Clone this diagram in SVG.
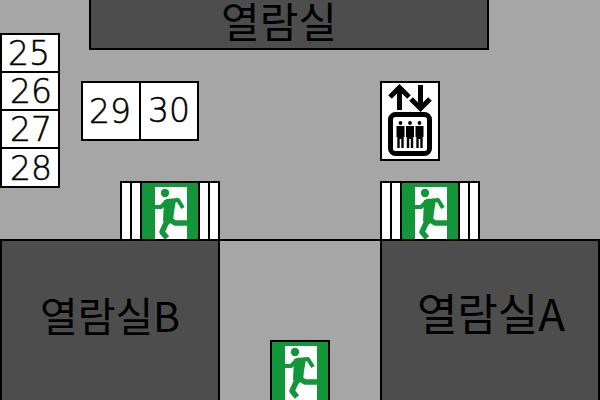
<svg xmlns="http://www.w3.org/2000/svg" xmlns:xlink="http://www.w3.org/1999/xlink" width="600" height="400" viewBox="0 0 600 400">
<style>
.room{fill:#4d4d4d;stroke:#000;stroke-width:2}
.cell{fill:#fff;stroke:#000;stroke-width:2}
text{font-family:"Noto Sans CJK KR","Noto Sans",sans-serif;fill:#000;text-anchor:middle}
.num{font-family:"DejaVu Sans",sans-serif;font-size:33px;font-weight:200;stroke:#000;stroke-width:.5px}
</style>
<defs>
<g id="exit">
<rect x="1" y="1" width="58" height="60" fill="#139639" stroke="#000" stroke-width="2"/>
<rect x="15" y="6" width="32" height="54" fill="#fff"/>
<circle cx="25" cy="12" r="4.200" fill="#139639"/>
<path d="M15 26 L21 26 L27 20 L38 19 L43 27" fill="none" stroke="#139639" stroke-width="4" stroke-linejoin="round"/>
<path d="M24 19 L36 19 L34 31 L33 40 L28 44 L23 40 Z" fill="#139639"/>
<path d="M29 38 L35 42 L50 42" fill="none" stroke="#139639" stroke-width="5.500" stroke-linejoin="round"/>
<path d="M28 38 L22 51 L27 57" fill="none" stroke="#139639" stroke-width="5.500" stroke-linejoin="round"/>
</g>
<g id="stripes">
<rect x="1" y="1" width="98" height="60" fill="#fff" stroke="#000" stroke-width="2"/>
<path d="M11 0V60M89 0V60" stroke="#000" stroke-width="2"/>
</g>
<g id="person">
<circle cx="0" cy="-3" r="1.900"/>
<path d="M-4 0h8v11h-.8v11h-2.400v-9h-1.600v9h-2.400v-11h-.8z"/>
</g>
</defs>
<rect width="600" height="400" fill="#a6a6a6"/>
<g id="connectors"></g>
<g id="door-left"><use xlink:href="#stripes" href="#stripes" x="120" y="181"/><use xlink:href="#exit" href="#exit" x="140" y="181"/></g>
<g id="door-right"><use xlink:href="#stripes" href="#stripes" x="380" y="181"/><use xlink:href="#exit" href="#exit" x="400" y="181"/></g>
<g id="room-top"><rect class="room" x="90" y="-2" width="398" height="51"/><text x="279" y="38" font-size="42">열람실</text></g>
<g id="room-b"><rect class="room" x="1" y="240" width="218" height="162"/><text x="110" y="332" font-size="41">열람실B</text></g>
<g id="room-a"><rect class="room" x="381" y="240" width="218" height="162"/><text x="491" y="331" font-size="44">열람실A</text></g>
<g id="c25"><rect class="cell" x="1" y="34" width="58" height="38"/><text class="num" x="29" y="65">25</text></g>
<g id="c26"><rect class="cell" x="1" y="72" width="58" height="38"/><text class="num" x="31" y="103">26</text></g>
<g id="c27"><rect class="cell" x="1" y="110" width="58" height="38"/><text class="num" x="31" y="141">27</text></g>
<g id="c28"><rect class="cell" x="1" y="148" width="58" height="39"/><text class="num" x="31" y="180">28</text></g>
<g id="c29"><rect class="cell" x="82" y="82" width="58" height="58"/><text class="num" x="110" y="123">29</text></g>
<g id="c30"><rect class="cell" x="140" y="82" width="58" height="58"/><text class="num" x="169" y="122">30</text></g>
<g id="lift">
<rect x="381" y="82" width="58" height="78" fill="#fff" stroke="#000" stroke-width="2"/>
<path d="M399.500 110V88M390 97L399.500 87.500L409 97M420.500 85V108M411 99L420.500 108.500L430 99" fill="none" stroke="#000" stroke-width="5"/>
<rect x="390.500" y="114.500" width="39" height="39" rx="5" fill="none" stroke="#000" stroke-width="5"/>
<g fill="#000"><use xlink:href="#person" href="#person" x="400.500" y="126"/><use xlink:href="#person" href="#person" x="410" y="126"/><use xlink:href="#person" href="#person" x="419.500" y="126"/></g>
</g>
<g id="door-bottom"><use xlink:href="#exit" href="#exit" x="270" y="340"/></g>
<path d="M219 240H381" stroke="#000" stroke-width="2"/>
</svg>
